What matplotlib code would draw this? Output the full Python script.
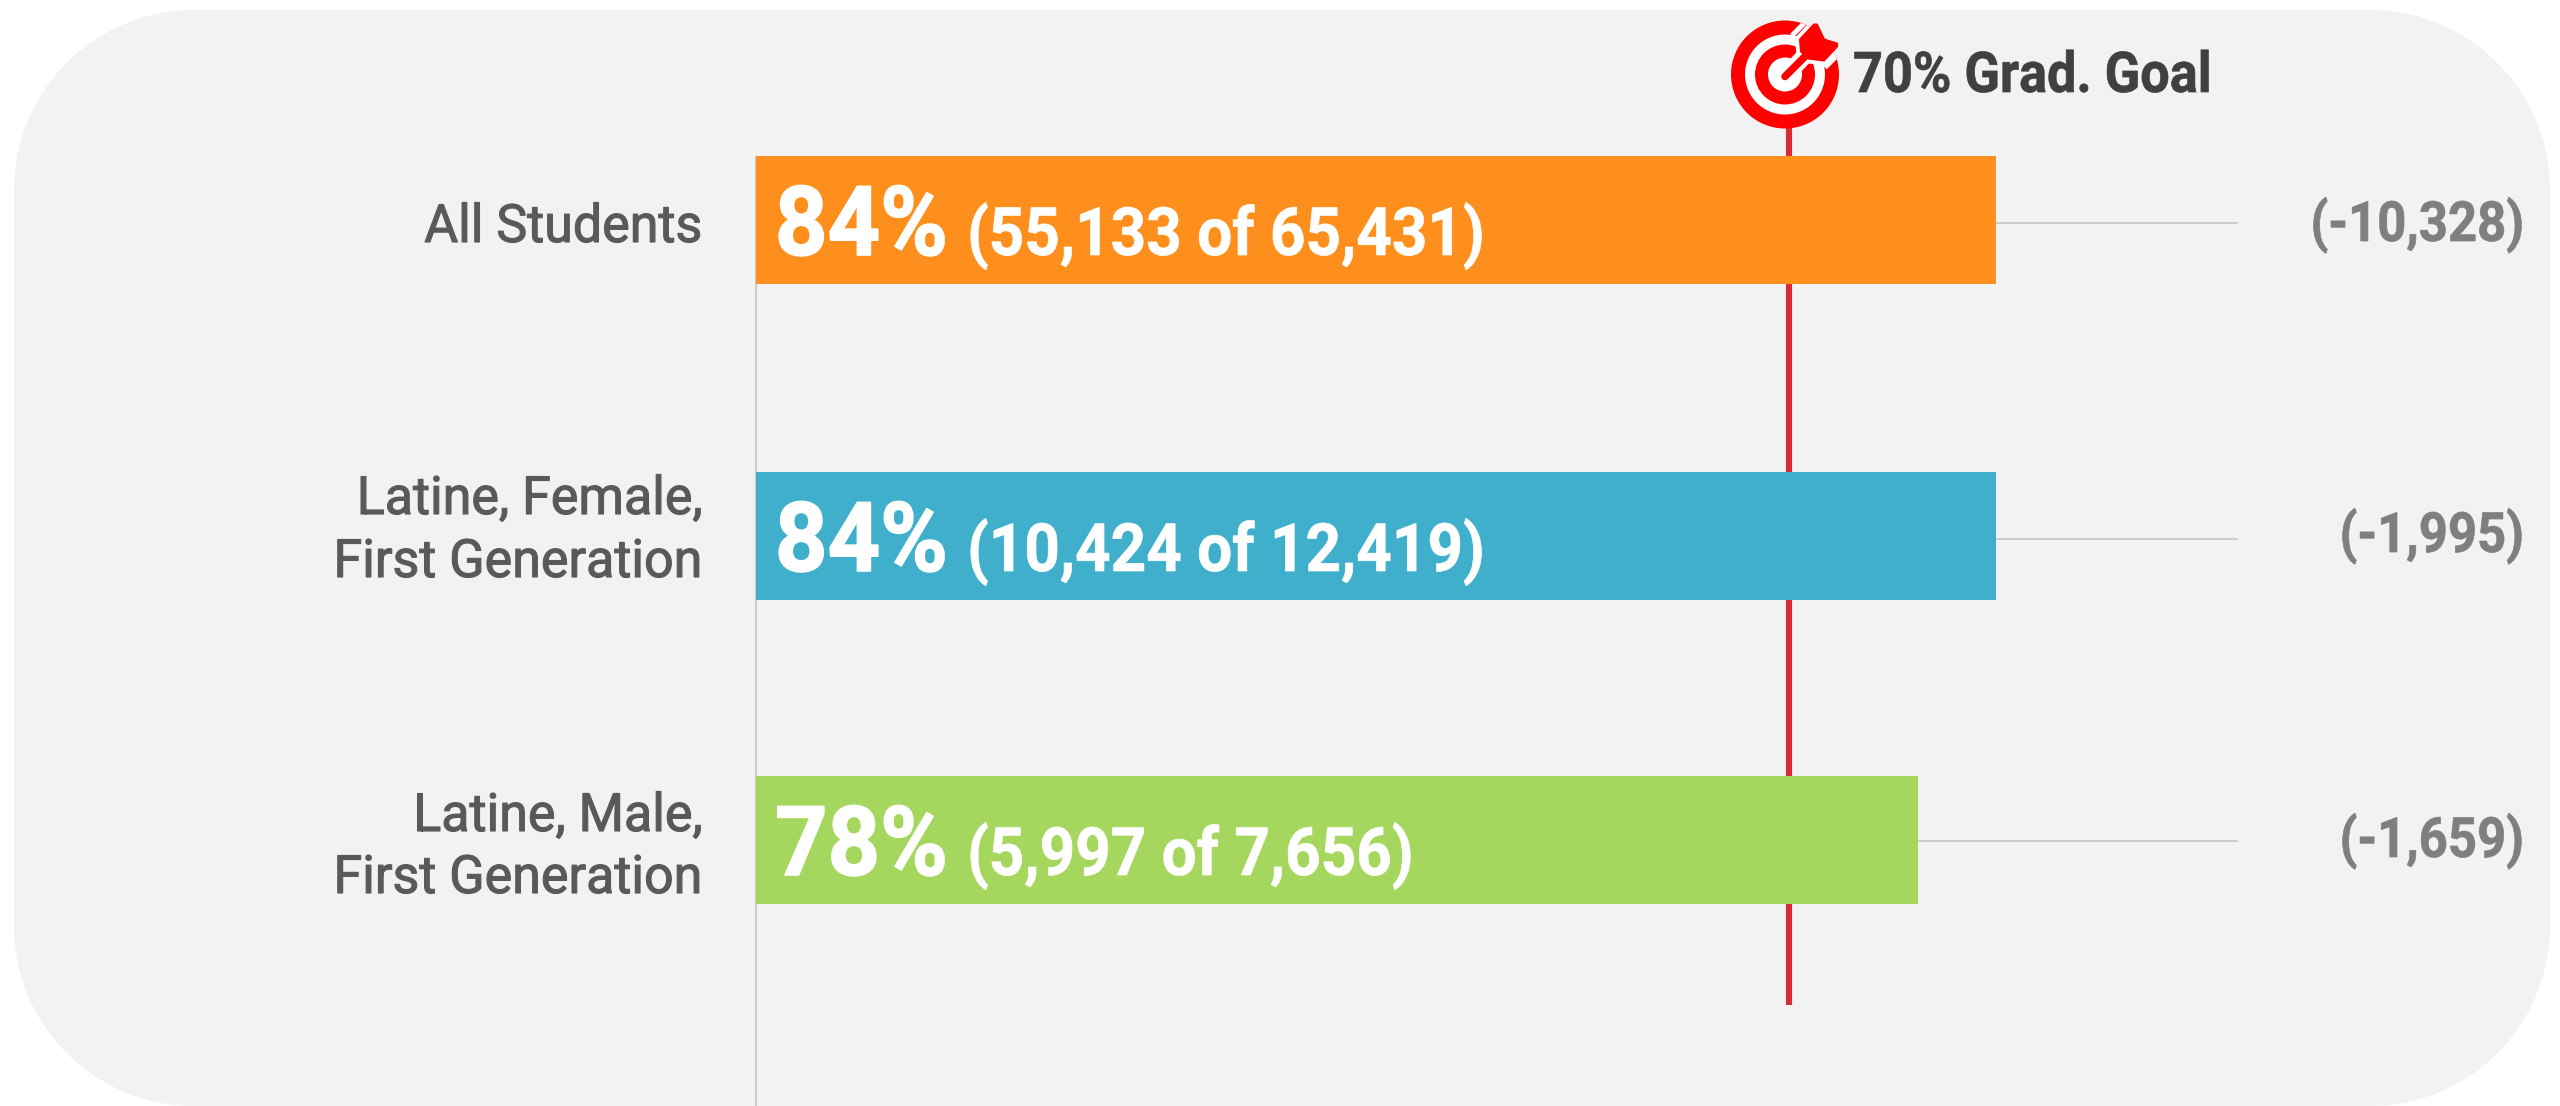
import matplotlib
matplotlib.use("Agg")
import matplotlib.pyplot as plt
from matplotlib.patches import Circle, Polygon, Rectangle
from matplotlib.patheffects import AbstractPathEffect
from matplotlib.transforms import Affine2D

plt.rcParams['font.family'] = ['Roboto', 'DejaVu Sans']

# chart values
groups = ["All Students", "Latine, Female,\nFirst Generation", "Latine, Male,\nFirst Generation"]
bar_values = [84, 84, 78.75]
pct_labels = ["84%", "84%", "78%"]
count_labels = ["(55,133 of 65,431)", "(10,424 of 12,419)", "(5,997 of 7,656)"]
gap_labels = ["(-10,328)", "(-1,995)", "(-1,659)"]
goal_value = 70
goal_label = "70% Grad. Goal"
bar_colors = ["#FF8F1C", "#3FAFCB", "#A5D75E"]

# layout, in pixels of the 2560x1106 picture
bar_centers = [220, 536, 840]
bar_height = 128
connector_y = [222.5, 539, 841]
pct_baseline = [255, 571, 875]
gap_baseline = [241, 552, 857]
label_baseline = [[242], [514, 577], [831, 893]]
PCT_PX = 14.76
X0 = 756
X1 = 2238


# the reference text is set tighter and a bit heavier than plain Roboto
class SqueezeX(AbstractPathEffect):
    def __init__(self, factor, anchor, stroke):
        super().__init__()
        self.factor = factor
        self.anchor = anchor
        self.stroke = stroke

    def draw_path(self, renderer, gc, tpath, affine, rgbFace=None):
        squeeze = Affine2D().translate(-self.anchor, 0).scale(self.factor, 1).translate(self.anchor, 0)
        gc0 = renderer.new_gc()
        gc0.copy_properties(gc)
        gc0.set_foreground(rgbFace)
        gc0.set_linewidth(self.stroke)
        renderer.draw_path(gc0, tpath, affine + squeeze, rgbFace)
        gc0.restore()


def put_text(axis, x, y, s, factor, stroke=0.5, **kw):
    axis.text(x, y, s, va="baseline", path_effects=[SqueezeX(factor, x, stroke)], **kw)


fig = plt.figure(figsize=(25.6, 11.06), dpi=100, facecolor="white")

# background axes in pixels, for the panel
bg = fig.add_axes([0, 0, 1, 1], zorder=0)
bg.set_xlim(0, 2560)
bg.set_ylim(1106, 0)
bg.axis("off")
PANEL = "#F2F2F2"
R = 180
bg.add_patch(Rectangle((14 + R, 10), 2536 - 2 * R, 1096, fc=PANEL, ec="none"))
bg.add_patch(Rectangle((14, 10 + R), 2536, 1096 - 2 * R, fc=PANEL, ec="none"))
for px in (14 + R, 2550 - R):
    for py in (10 + R, 1106 - R):
        bg.add_patch(Circle((px, py), R, fc=PANEL, ec="none"))

# bars axes: x in percent, y in pixels
ax = fig.add_axes([X0 / 2560, 0, (X1 - X0) / 2560, 1], zorder=1)
ax.set_xlim(0, (X1 - X0) / PCT_PX)
ax.set_ylim(1106, 0)
ax.axis("off")

ax.plot([0, 0], [156, 1106], color="#CCCCCC", lw=1.5, zorder=1, solid_capstyle="butt", clip_on=False)
ax.plot([goal_value, goal_value], [120, 1005], color="#D92B33", lw=4.4, zorder=2, solid_capstyle="butt")
for v, y in zip(bar_values, connector_y):
    ax.plot([v, (X1 - X0) / PCT_PX], [y, y], color="#CCCCCC", lw=1.5, zorder=1, solid_capstyle="butt")
ax.barh(bar_centers, bar_values, height=bar_height, color=bar_colors, zorder=3)

# overlay for text and the goal icon
top = fig.add_axes([0, 0, 1, 1], zorder=2)
top.set_xlim(0, 2560)
top.set_ylim(1106, 0)
top.axis("off")
top.patch.set_alpha(0)

for i in range(3):
    for line, base in zip(groups[i].split("\n"), label_baseline[i]):
        put_text(top, 702, base, line, 0.985, stroke=0.8, ha="right", fontsize=38, color="#595959")
    put_text(top, 775, pct_baseline[i], pct_labels[i], 0.95, stroke=1.2, ha="left",
             fontsize=69.5, fontweight="bold", color="white")
    put_text(top, 967, pct_baseline[i], count_labels[i], 0.93, ha="left",
             fontsize=48, fontweight="bold", color="white")
    put_text(top, 2524, gap_baseline[i], gap_labels[i], 0.915, ha="right",
             fontsize=40, fontweight="bold", color="#7F7F7F")

put_text(top, 1853, 92, goal_label, 0.928, ha="left", fontsize=40.5, fontweight="bold", color="#404040")

# target icon
cx, cy = 1785, 74.5
RED = "#FF0000"
def pts(coords):
    return [(cx + a, cy + b) for a, b in coords]

outer = Circle((cx, cy), 54, fc=RED, ec="none")
top.add_patch(outer)
top.add_patch(Circle((cx, cy), 40, fc="white", ec="none"))
top.add_patch(Circle((cx, cy), 30, fc=RED, ec="none"))
top.add_patch(Circle((cx, cy), 17, fc="white", ec="none"))

fletch = [(15, -35), (29, -50), (32, -50), (39, -35), (52, -31), (52, -28), (39, -14), (23, -16), (16, -23)]
# white gaps round the arrow, cut off at the edge of the target
halo = Polygon(pts(fletch), closed=True, fc="white", ec="white", lw=7, joinstyle="round", zorder=3)
top.add_patch(halo)
halo.set_clip_path(outer)
for a, b in [((7, -39), (24, -56)), ((40, -7), (57, -24))]:
    band, = top.plot(*zip(*pts([a, b])), color="white", lw=3.6, zorder=3, solid_capstyle="butt")
    band.set_clip_path(outer)
top.plot(*zip(*pts([(0, 2), (20, -19)])), color="white", lw=12, zorder=3, solid_capstyle="butt")
top.plot(*zip(*pts([(0, 2), (24, -22)])), color=RED, lw=5.4, zorder=4, solid_capstyle="round")
top.add_patch(Polygon(pts(fletch), closed=True, fc=RED, ec=RED, lw=1.5, joinstyle="round", zorder=4))

fig.savefig("out.png", dpi=100)
